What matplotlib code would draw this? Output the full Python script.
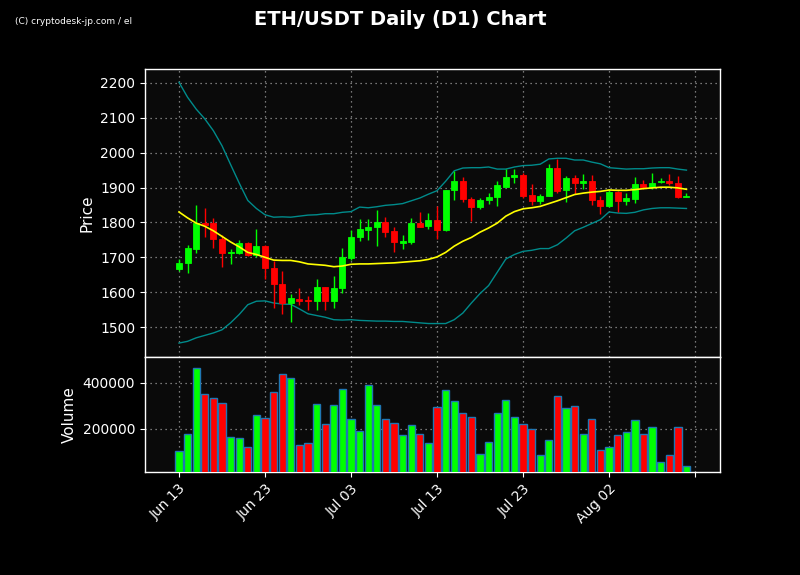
import matplotlib
matplotlib.use("Agg")
import matplotlib.pyplot as plt
import numpy as np

# ---- data ----
dates = ["Jun 13","Jun 14","Jun 15","Jun 16","Jun 17","Jun 18","Jun 19","Jun 20","Jun 21","Jun 22",
         "Jun 23","Jun 24","Jun 25","Jun 26","Jun 27","Jun 28","Jun 29","Jun 30","Jul 01","Jul 02",
         "Jul 03","Jul 04","Jul 05","Jul 06","Jul 07","Jul 08","Jul 09","Jul 10","Jul 11","Jul 12",
         "Jul 13","Jul 14","Jul 15","Jul 16","Jul 17","Jul 18","Jul 19","Jul 20","Jul 21","Jul 22",
         "Jul 23","Jul 24","Jul 25","Jul 26","Jul 27","Jul 28","Jul 29","Jul 30","Jul 31","Aug 01",
         "Aug 02","Aug 03","Aug 04","Aug 05","Aug 06","Aug 07","Aug 08","Aug 09","Aug 10","Aug 11"]

opens  = [1666,1683,1725,1799,1797,1753,1712,1712,1742,1706,
          1731,1670,1624,1568,1581,1577,1574,1616,1574,1611,
          1699,1757,1779,1786,1802,1774,1742,1745,1799,1789,
          1808,1777,1892,1919,1868,1843,1864,1872,1903,1929,
          1937,1880,1861,1875,1957,1892,1926,1912,1920,1865,
          1846,1888,1861,1868,1910,1902,1915,1920,1914,1872]
highs  = [1696,1734,1850,1842,1813,1764,1724,1750,1744,1782,
          1734,1689,1661,1595,1612,1588,1638,1616,1647,1727,
          1779,1811,1811,1836,1816,1786,1764,1813,1830,1827,
          1848,1894,1948,1930,1873,1870,1883,1919,1954,1954,
          1942,1910,1881,1968,1982,1932,1935,1939,1936,1875,
          1892,1891,1885,1930,1921,1943,1928,1939,1932,1884]
lows   = [1662,1655,1711,1758,1727,1672,1681,1710,1705,1700,
          1638,1555,1536,1515,1563,1550,1550,1550,1555,1598,
          1693,1746,1750,1731,1757,1715,1724,1739,1788,1781,
          1753,1775,1864,1859,1805,1839,1853,1846,1903,1913,
          1869,1851,1853,1875,1884,1859,1881,1896,1850,1825,
          1845,1830,1850,1856,1895,1897,1914,1906,1870,1872]
closes = [1685,1728,1799,1794,1752,1712,1715,1742,1708,1731,
          1669,1623,1568,1582,1575,1575,1616,1574,1613,1702,
          1759,1782,1788,1802,1772,1743,1748,1799,1788,1808,
          1777,1894,1919,1866,1843,1865,1874,1906,1931,1937,
          1877,1861,1877,1957,1891,1926,1912,1920,1864,1846,
          1888,1861,1871,1910,1902,1914,1920,1912,1872,1877]

volumes = [104000,178000,465000,352000,335000,313000,165000,161000,122000,261000,
           248000,358000,439000,422000,130000,139000,309000,222000,304000,374000,
           243000,191000,391000,304000,243000,226000,174000,217000,178000,139000,
           296000,370000,322000,270000,252000,91000,143000,270000,326000,252000,
           222000,200000,87000,152000,343000,291000,300000,178000,243000,107000,
           122000,174000,187000,239000,178000,209000,57000,87000,209000,39000]

ma_line = [1830,1813,1798,1789,1776,1760,1744,1730,1714,1708,
           1700,1692,1691,1691,1687,1681,1679,1677,1673,1675,
           1680,1681,1681,1682,1683,1684,1686,1688,1690,1694,
           1701,1714,1732,1746,1757,1772,1784,1798,1818,1831,
           1839,1842,1846,1854,1862,1871,1880,1884,1887,1889,
           1893,1892,1892,1894,1897,1899,1901,1901,1899,1895]
upper_band = [2202,2159,2125,2097,2063,2020,1966,1913,1863,1840,
              1822,1815,1816,1815,1818,1821,1822,1825,1825,1829,
              1831,1844,1842,1845,1849,1851,1854,1862,1870,1881,
              1891,1918,1948,1956,1957,1957,1959,1953,1953,1959,
              1963,1964,1967,1982,1984,1984,1979,1979,1973,1968,
              1957,1955,1953,1954,1954,1956,1957,1957,1953,1950]
lower_band = [1454,1459,1469,1476,1483,1492,1512,1536,1564,1574,
              1575,1569,1566,1565,1552,1538,1533,1528,1521,1520,
              1521,1519,1518,1517,1517,1516,1516,1514,1512,1510,
              1510,1510,1521,1540,1569,1596,1619,1657,1695,1708,
              1717,1720,1725,1725,1736,1755,1776,1786,1797,1808,
              1830,1827,1826,1829,1836,1840,1842,1842,1841,1840]

price_ticks = [1500,1600,1700,1800,1900,2000,2100,2200]
vol_ticks = [200000,400000]

# ---- styling ----
UP = "#00ff00"
DOWN = "#ff0000"
FIG_BG = "#000000"
AX_BG = "#0a0a0a"

fig = plt.figure(figsize=(8, 5.75), dpi=100, facecolor=FIG_BG)
ax = fig.add_axes([0.18125, 0.3791, 0.71875, 0.5009])
axv = fig.add_axes([0.18125, 0.1791, 0.71875, 0.2000], sharex=ax)

x = np.arange(len(opens))
o = np.array(opens); c = np.array(closes); h = np.array(highs); l = np.array(lows)
colors = [UP if cc >= oo else DOWN for oo, cc in zip(o, c)]

for a in (ax, axv):
    a.set_facecolor(AX_BG)
    for s in a.spines.values():
        s.set_color("white")
        s.set_linewidth(1.0)
    a.tick_params(colors="white", labelsize=10)
    a.grid(True, color="#aaaaaa", linestyle=(0, (1, 3)), linewidth=0.9, alpha=0.9)
    a.set_axisbelow(True)

# candles
ax.vlines(x, l, h, colors=colors, linewidth=1.0, zorder=3)
body_bottom = np.minimum(o, c)
body_height = np.maximum(np.abs(c - o), 1.5)
ax.bar(x, body_height, bottom=body_bottom, width=0.7, color=colors,
       edgecolor=colors, linewidth=0.6, zorder=4)

# MA and bands
ax.plot(x, ma_line, color="#ffff00", linewidth=1.2, zorder=5)
ax.plot(x, upper_band, color="#008b8b", linewidth=1.0, zorder=2)
ax.plot(x, lower_band, color="#008b8b", linewidth=1.0, zorder=2)

ax.set_ylim(1414, 2240)
ax.set_yticks(price_ticks)
ax.set_ylabel("Price", color="white", fontsize=11)
plt.setp(ax.get_xticklabels(), visible=False)
ax.tick_params(axis="x", length=0)

# volume
vols = np.array(volumes)
axv.bar(x, vols, width=0.85, color=colors, edgecolor="#1f77b4", linewidth=1.0, zorder=3)
axv.set_ylim(0.3 * vols.min(), 1.1 * vols.max())
axv.set_yticks(vol_ticks)
axv.set_yticklabels([str(v) for v in vol_ticks])
axv.set_ylabel("Volume", color="white", fontsize=11)

tick_pos = list(range(0, len(dates) + 1, 10))
tick_lab = [dates[i] if i < len(dates) else "" for i in tick_pos]
axv.set_xticks(tick_pos)
axv.set_xticklabels(tick_lab, rotation=45, ha="right", rotation_mode="anchor", color="white")
axv.set_xlim(-3.95, 62.9)

fig.text(0.5, 0.982, "ETH/USDT Daily (D1) Chart", color="white", fontsize=14,
         fontweight="bold", ha="center", va="top")
fig.text(0.019, 0.963, "(C) cryptodesk-jp.com / el", color="white", fontsize=6.5,
         family="Liberation Sans Narrow", ha="left", va="center")

fig.savefig("out.png", dpi=100, facecolor=FIG_BG)
